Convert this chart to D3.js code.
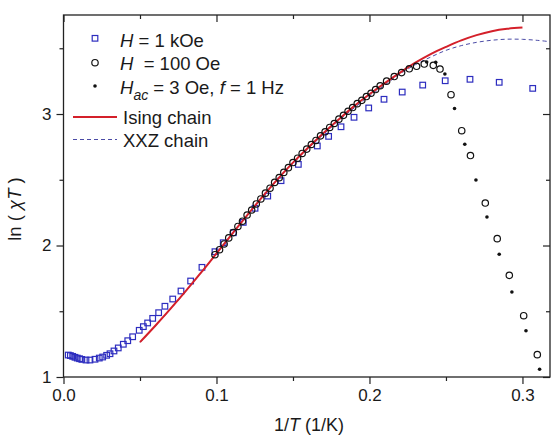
<!DOCTYPE html>
<html><head><meta charset="utf-8">
<script src="https://cdn.jsdelivr.net/npm/d3@7"></script>
<style>
body{margin:0;background:#fff;}
svg text{font-family:"Liberation Sans",Arial,sans-serif;fill:#1a1a1a;}
</style></head>
<body><svg id="c" width="551" height="437"></svg>
<script>
// ---- data ----
const sqX = [0.0031,0.0045,0.0060,0.0075,0.0090,0.0105,0.0120,0.0147,0.0173,0.0206,0.0234,0.0256,0.0282,0.0304,0.0330,0.0358,0.0391,0.0420,0.0452,0.0495,0.0522,0.0550,0.0583,0.0622,0.0663,0.0714,0.0768,0.0831,0.0905,0.0990,0.1044,0.1110,0.1175,0.1252,0.1335,0.1422,0.1535,0.1659,0.1733,0.1814,0.1899,0.1995,0.2095,0.2214,0.2348,0.2495,0.2657,0.2848,0.3067];
const sqY = [1.167,1.163,1.157,1.150,1.144,1.139,1.134,1.129,1.129,1.135,1.144,1.152,1.165,1.177,1.198,1.221,1.249,1.276,1.306,1.355,1.383,1.411,1.446,1.489,1.538,1.593,1.654,1.730,1.834,1.953,2.021,2.097,2.176,2.283,2.376,2.493,2.617,2.757,2.830,2.903,2.975,3.046,3.112,3.167,3.220,3.253,3.264,3.241,3.195];

const ciX = [0.099,0.102,0.105,0.108,0.111,0.114,0.117,0.120,0.123,0.126,0.129,0.132,0.135,0.138,0.141,0.144,0.147,0.150,0.153,0.156,0.159,0.162,0.165,0.168,0.171,0.174,0.177,0.180,0.183,0.186,0.189,0.192,0.195,0.198,0.201,0.204,0.207,0.2112,0.2162,0.221,0.226,0.2308,0.2358,0.2417,0.2461,0.2533,0.2603,0.266,0.2757,0.2835,0.2914,0.3008,0.3097];
const ciY = [1.930,1.968,2.012,2.058,2.098,2.145,2.185,2.232,2.270,2.316,2.354,2.398,2.436,2.480,2.516,2.556,2.592,2.631,2.664,2.700,2.733,2.768,2.799,2.834,2.865,2.898,2.928,2.961,2.990,3.021,3.049,3.079,3.104,3.133,3.158,3.186,3.215,3.250,3.285,3.315,3.344,3.363,3.380,3.370,3.342,3.147,2.873,2.684,2.323,2.052,1.773,1.466,1.170];

const dotX = [0.2374,0.2433,0.2493,0.2556,0.2623,0.2696,0.2768,0.2848,0.2931,0.3023,0.3112];
const dotY = [3.395,3.393,3.304,3.042,2.770,2.498,2.217,1.933,1.646,1.352,1.059];

const isingX = [0.05,0.06,0.07,0.08,0.09,0.10,0.11,0.12,0.13,0.14,0.15,0.16,0.17,0.18,0.19,0.20,0.21,0.22,0.23,0.24,0.25,0.26,0.27,0.28,0.29,0.30];
const isingY = [1.265,1.39,1.52,1.655,1.795,1.94,2.085,2.23,2.37,2.505,2.63,2.745,2.855,2.96,3.06,3.15,3.235,3.315,3.39,3.455,3.51,3.56,3.60,3.63,3.648,3.657];

const xxzX = [0.05,0.06,0.07,0.08,0.09,0.10,0.11,0.12,0.13,0.14,0.15,0.16,0.17,0.18,0.19,0.20,0.21,0.22,0.23,0.24,0.25,0.26,0.27,0.28,0.29,0.30,0.31,0.318];
const xxzY = [1.262,1.387,1.517,1.652,1.792,1.937,2.082,2.227,2.366,2.50,2.624,2.738,2.846,2.949,3.046,3.135,3.22,3.305,3.375,3.433,3.484,3.52,3.545,3.561,3.569,3.568,3.56,3.55];

const xMajor = [0,0.1,0.2,0.3];
const xMinor = [0.05,0.15,0.25];
const yMajor = [1,2,3];
const yMinor = [1.5,2.5,3.5];

// ---- layout ----
const L=63.5, R=550, T=15, B=377;
const svg = d3.select("#c");
const x = d3.scaleLinear().domain([0,0.318]).range([L,R]);
const y = d3.scaleLinear().domain([1,3.753]).range([B,T]);
const axCol="#222";

function styleAxis(g){ g.select(".domain").remove(); g.selectAll("line").attr("stroke",axCol).attr("stroke-width",1.2); g.selectAll("text").attr("font-size",17).attr("fill","#1a1a1a"); }

svg.append("g").attr("transform",`translate(0,${B})`).call(d3.axisBottom(x).tickValues(xMajor).tickFormat(d3.format(".1f")).tickSize(7).tickPadding(5)).call(styleAxis);
svg.append("g").attr("transform",`translate(0,${B})`).call(d3.axisBottom(x).tickValues(xMinor).tickFormat("").tickSize(4)).call(styleAxis);
svg.append("g").attr("transform",`translate(0,${T})`).call(d3.axisTop(x).tickValues(xMajor).tickFormat("").tickSize(-7)).call(styleAxis);
svg.append("g").attr("transform",`translate(0,${T})`).call(d3.axisTop(x).tickValues(xMinor).tickFormat("").tickSize(-4)).call(styleAxis);
svg.append("g").attr("transform",`translate(${L},0)`).call(d3.axisLeft(y).tickValues(yMajor).tickFormat(d3.format("d")).tickSize(7).tickPadding(5)).call(styleAxis);
svg.append("g").attr("transform",`translate(${L},0)`).call(d3.axisLeft(y).tickValues(yMinor).tickFormat("").tickSize(4)).call(styleAxis);
svg.append("g").attr("transform",`translate(${R},0)`).call(d3.axisRight(y).tickValues(yMajor).tickFormat("").tickSize(-7)).call(styleAxis);
svg.append("g").attr("transform",`translate(${R},0)`).call(d3.axisRight(y).tickValues(yMinor).tickFormat("").tickSize(-4)).call(styleAxis);

svg.append("rect").attr("x",L).attr("y",T).attr("width",R-L).attr("height",B-T).attr("fill","none").attr("stroke",axCol).attr("stroke-width",1.3);

// ---- curves ----
const line = d3.line().x(d=>x(d[0])).y(d=>y(d[1])).curve(d3.curveCatmullRom);
svg.append("path").datum(xxzX.map((v,i)=>[v,xxzY[i]])).attr("d",line).attr("fill","none").attr("stroke","#4b4ba6").attr("stroke-width",1).attr("stroke-dasharray","4,3");

// squares
const sqCol="#2d2dbf";
svg.append("g").selectAll("rect").data(sqX.map((v,i)=>[v,sqY[i]])).join("rect")
  .attr("x",d=>x(d[0])-2.8).attr("y",d=>y(d[1])-2.8).attr("width",5.6).attr("height",5.6)
  .attr("fill","none").attr("stroke",sqCol).attr("stroke-width",1.2);

svg.append("path").datum(isingX.map((v,i)=>[v,isingY[i]])).attr("d",line).attr("fill","none").attr("stroke","#d4202a").attr("stroke-width",2);

// circles
svg.append("g").selectAll("circle").data(ciX.map((v,i)=>[v,ciY[i]])).join("circle")
  .attr("cx",d=>x(d[0])).attr("cy",d=>y(d[1])).attr("r",3.2)
  .attr("fill","none").attr("stroke","#111").attr("stroke-width",1.2);
// dots
svg.append("g").selectAll("circle").data(dotX.map((v,i)=>[v,dotY[i]])).join("circle")
  .attr("cx",d=>x(d[0])).attr("cy",d=>y(d[1])).attr("r",1.8).attr("fill","#111");

// ---- legend ----
const lg = svg.append("g").attr("font-size",18.5);
lg.append("rect").attr("x",95-2.8).attr("y",38.3-2.8).attr("width",5.6).attr("height",5.6).attr("fill","none").attr("stroke",sqCol).attr("stroke-width",1.2);
lg.append("circle").attr("cx",95).attr("cy",62.7).attr("r",3.2).attr("fill","none").attr("stroke","#111").attr("stroke-width",1.2);
lg.append("circle").attr("cx",95).attr("cy",86).attr("r",1.8).attr("fill","#111");
lg.append("line").attr("x1",73).attr("x2",117).attr("y1",117).attr("y2",117).attr("stroke","#d4202a").attr("stroke-width",2);
lg.append("line").attr("x1",73).attr("x2",117).attr("y1",139.5).attr("y2",139.5).attr("stroke","#4b4ba6").attr("stroke-width",1).attr("stroke-dasharray","4,3");

let t1 = lg.append("text").attr("x",120).attr("y",46.5);
t1.append("tspan").attr("font-style","italic").text("H");
t1.append("tspan").text(" = 1 kOe");
let t2 = lg.append("text").attr("x",120).attr("y",70).style("white-space","pre");
t2.append("tspan").attr("font-style","italic").text("H");
t2.append("tspan").text("  = 100 Oe");
let t3 = lg.append("text").attr("x",120).attr("y",93.5);
t3.append("tspan").attr("font-style","italic").text("H");
t3.append("tspan").attr("font-style","italic").attr("font-size",14).attr("dy",6).text("ac");
t3.append("tspan").attr("dy",-6).text(" = 3 Oe, ");
t3.append("tspan").attr("font-style","italic").text("f");
t3.append("tspan").text(" = 1 Hz");
lg.append("text").attr("x",123).attr("y",123.5).text("Ising chain");
lg.append("text").attr("x",123).attr("y",147).text("XXZ chain");

// ---- axis titles ----
let xt = svg.append("text").attr("x",309).attr("y",431).attr("text-anchor","middle").attr("font-size",18);
xt.append("tspan").text("1/");
xt.append("tspan").attr("font-style","italic").text("T");
xt.append("tspan").text(" (1/K)");

let yt = svg.append("text").attr("transform","translate(21,209) rotate(-90)").attr("text-anchor","middle").attr("font-size",18.5).style("white-space","pre");
yt.append("tspan").text("ln ( ");
yt.append("tspan").attr("font-style","italic").text("χT");
yt.append("tspan").text(" )");
</script></body></html>
